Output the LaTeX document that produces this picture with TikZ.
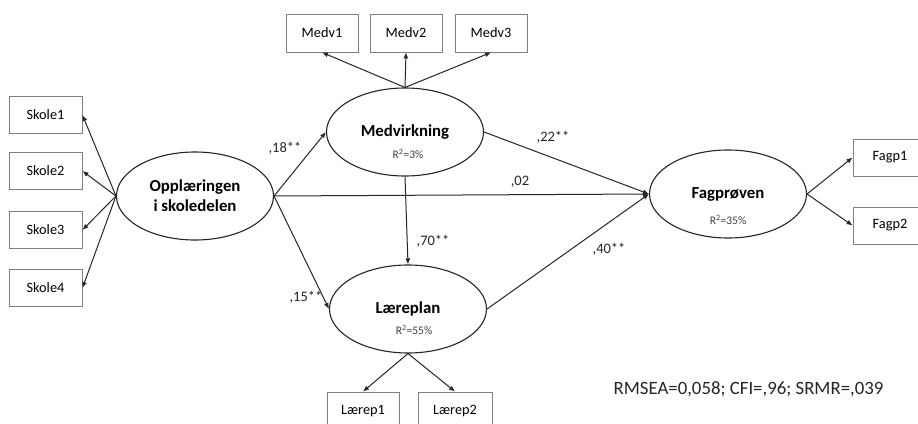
\documentclass[tikz,border=0pt]{standalone}
\usepackage{fontspec}
\setmainfont{Carlito}
\usetikzlibrary{arrows.meta,shapes.geometric}
\begin{document}
\begin{tikzpicture}[x=1pt,y=-1pt,
  latent/.style={draw=black!85,line width=1.1pt,ellipse,inner sep=0pt,
    minimum width=157pt,minimum height=88pt,
    font=\fontsize{16.8}{20}\selectfont\bfseries,align=center},
  obs/.style={draw=black!50,line width=0.9pt,rectangle,inner sep=0pt,
    minimum width=73pt,minimum height=37pt,
    font=\fontsize{14.3}{17}\selectfont},
  rsq/.style={inner sep=0pt,font=\fontsize{11.5}{13}\selectfont,text=black!75},
  coef/.style={inner sep=0pt,font=\fontsize{14.5}{17}\selectfont,text=black!85},
  conn/.style={draw=black!85,line width=1pt,-{Latex[length=6pt,width=5pt]}},
  path/.style={draw=black!85,line width=1pt,-{Latex[length=6pt,width=5pt]}}
]
\useasboundingbox (0,0) rectangle (918,423);
\clip (0,0) rectangle (918,423);
\fill[white] (0,0) rectangle (918,423);

% latent variables
\node[latent] (opp) at (195,196) {Opplæringen\\i skoledelen};
\node[latent] (med) at (405,132) {Medvirkning};
\node[latent] (lae) at (408,309) {Læreplan};
\node[latent] (fag) at (728,194) {Fagprøven};

\node[rsq] (medr) at (408,154) {R\textsuperscript{2}=3\%};
\node[rsq] (laer) at (414,330) {R\textsuperscript{2}=55\%};
\node[rsq] (fagr) at (728,220) {R\textsuperscript{2}=35\%};

% indicators
\node[obs] (s1) at (45.5,115) {Skole1};
\node[obs] (s2) at (45.5,171) {Skole2};
\node[obs] (s3) at (45.5,230) {Skole3};
\node[obs] (s4) at (45.5,288) {Skole4};

\node[obs,minimum height=38pt,minimum width=72pt] (m1) at (322,33) {Medv1};
\node[obs,minimum height=38pt,minimum width=72pt] (m2) at (406,33) {Medv2};
\node[obs,minimum height=38pt,minimum width=72pt] (m3) at (491,33) {Medv3};

\node[obs,minimum height=38pt,minimum width=72pt] (l1) at (363,411) {Lærep1};
\node[obs,minimum height=38pt,minimum width=74pt] (l2) at (455,411) {Lærep2};

\node[obs,minimum width=74pt] (f1) at (890,157.5) {Fagp1};
\node[obs,minimum width=74pt] (f2) at (890,225.5) {Fagp2};

% measurement arrows
\draw[conn] (opp.west) -- (s1.east);
\draw[conn] (opp.west) -- (s2.east);
\draw[conn] (opp.west) -- (s3.east);
\draw[conn] (opp.west) -- (s4.east);

\draw[conn] (med.north) -- (m1.south);
\draw[conn] (med.north) -- (m2.south);
\draw[conn] (med.north) -- (m3.south);

\draw[conn] (lae.south) -- (l1.north);
\draw[conn] (lae.south) -- (l2.north);

\draw[conn] (fag.east) -- (f1.west);
\draw[conn] (fag.east) -- (f2.west);

% structural paths
\draw[path] (opp.east) -- (med.west);
\draw[path] (opp.east) -- (fag.west);
\draw[path] (opp.east) -- (lae.west);
\draw[path] (med.south) -- (lae.north);
\draw[path] (med.east) -- (fag.west);
\draw[path] (lae.east) -- (fag.west);

% coefficients
\node[coef] (c18) at (285,148) {,18**};
\node[coef] (c02) at (520,182) {,02};
\node[coef] (c15) at (306,297) {,15**};
\node[coef] (c70) at (433,241) {,70**};
\node[coef] (c22) at (553,137) {,22**};
\node[coef] (c40) at (609,249) {,40**};

% fit indices
\node[inner sep=0pt,font=\fontsize{18.8}{22}\selectfont,text=black!85] (fit) at (748.5,389) {RMSEA=0,058; CFI=,96; SRMR=,039};
\end{tikzpicture}
\end{document}
